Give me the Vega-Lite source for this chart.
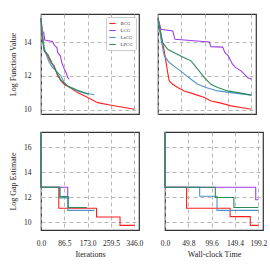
{
  "$schema": "https://vega.github.io/schema/vega-lite/v6.json",
  "padding": {"left": 8, "top": 13, "right": 5, "bottom": 5},
  "config": {
    "font": "Liberation Serif",
    "view": {"stroke": "#333333", "strokeWidth": 1.2},
    "axis": {"gridColor": "#b0b0b0", "gridDash": [4, 3], "gridWidth": 0.9, "domain": false, "ticks": false, "labelFontSize": 7.5, "titleFontSize": 8, "labelColor": "#222222", "titleColor": "#222222", "titleFontWeight": "normal", "labelFont": "Liberation Serif", "titleFont": "Liberation Serif", "minExtent": 0, "labelFlush": false, "labelOverlap": false},
    "line": {"strokeWidth": 1.1, "clip": true}
  },
  "datasets": {
    "fi": [
      {"m":"BCG","x":0,"y":15.4},{"m":"BCG","x":6,"y":14.45},{"m":"BCG","x":12,"y":13.47},{"m":"BCG","x":25,"y":13.18},{"m":"BCG","x":37,"y":12.79},{"m":"BCG","x":49,"y":12.59},{"m":"BCG","x":62,"y":12.0},{"m":"BCG","x":74,"y":11.71},{"m":"BCG","x":86,"y":11.51},{"m":"BCG","x":111,"y":11.28},{"m":"BCG","x":136,"y":11.02},{"m":"BCG","x":173,"y":10.73},{"m":"BCG","x":210,"y":10.43},{"m":"BCG","x":260,"y":10.28},{"m":"BCG","x":309,"y":10.14},{"m":"BCG","x":346,"y":10.04},
      {"m":"LCG","x":0,"y":15.4},{"m":"LCG","x":2,"y":14.6},{"m":"LCG","x":10,"y":14.58},{"m":"LCG","x":14,"y":14.12},{"m":"LCG","x":43,"y":14.03},{"m":"LCG","x":49,"y":13.81},{"m":"LCG","x":59,"y":13.67},{"m":"LCG","x":62,"y":13.37},{"m":"LCG","x":72,"y":13.18},{"m":"LCG","x":77,"y":12.79},{"m":"LCG","x":84,"y":12.49},{"m":"LCG","x":93,"y":12.2},{"m":"LCG","x":99,"y":11.9},{"m":"LCG","x":105,"y":11.81},
      {"m":"LaCG","x":0,"y":15.4},{"m":"LaCG","x":6,"y":14.26},{"m":"LaCG","x":12,"y":13.67},{"m":"LaCG","x":19,"y":13.28},{"m":"LaCG","x":31,"y":12.79},{"m":"LaCG","x":43,"y":12.49},{"m":"LaCG","x":56,"y":12.3},{"m":"LaCG","x":74,"y":12.0},{"m":"LaCG","x":86,"y":11.6},{"m":"LaCG","x":100,"y":11.4},{"m":"LaCG","x":130,"y":11.15},{"m":"LaCG","x":160,"y":11.0},{"m":"LaCG","x":198,"y":10.89},
      {"m":"LPCG","x":0,"y":15.4},{"m":"LPCG","x":6,"y":14.03},{"m":"LPCG","x":12,"y":13.47},{"m":"LPCG","x":25,"y":13.28},{"m":"LPCG","x":37,"y":12.89},{"m":"LPCG","x":49,"y":12.49},{"m":"LPCG","x":62,"y":12.1},{"m":"LPCG","x":74,"y":11.75},{"m":"LPCG","x":99,"y":11.41},{"m":"LPCG","x":136,"y":11.16},{"m":"LPCG","x":175,"y":10.93}
    ],
    "ft": [
      {"m":"BCG","x":0,"y":15.4},{"m":"BCG","x":6.4,"y":14.36},{"m":"BCG","x":10,"y":13.96},{"m":"BCG","x":15,"y":13.18},{"m":"BCG","x":20.7,"y":12.2},{"m":"BCG","x":24,"y":11.71},{"m":"BCG","x":31.4,"y":11.51},{"m":"BCG","x":42,"y":11.32},{"m":"BCG","x":56,"y":11.12},{"m":"BCG","x":77.5,"y":10.93},{"m":"BCG","x":99,"y":10.73},{"m":"BCG","x":113,"y":10.53},{"m":"BCG","x":134.5,"y":10.4},{"m":"BCG","x":156,"y":10.24},{"m":"BCG","x":177,"y":10.14},{"m":"BCG","x":199.2,"y":10.04},
      {"m":"LCG","x":0,"y":15.4},{"m":"LCG","x":6.4,"y":14.75},{"m":"LCG","x":31.4,"y":14.65},{"m":"LCG","x":36.3,"y":14.16},{"m":"LCG","x":109.5,"y":14.0},{"m":"LCG","x":113,"y":13.73},{"m":"LCG","x":138,"y":13.7},{"m":"LCG","x":143,"y":13.37},{"m":"LCG","x":150,"y":13.18},{"m":"LCG","x":159,"y":12.69},{"m":"LCG","x":166,"y":12.49},{"m":"LCG","x":177,"y":12.3},{"m":"LCG","x":188,"y":12.0},{"m":"LCG","x":192,"y":11.9},{"m":"LCG","x":199.2,"y":11.81},
      {"m":"LaCG","x":0,"y":15.4},{"m":"LaCG","x":6.4,"y":14.16},{"m":"LaCG","x":13.4,"y":13.18},{"m":"LaCG","x":24,"y":12.79},{"m":"LaCG","x":38.4,"y":12.49},{"m":"LaCG","x":52.7,"y":12.2},{"m":"LaCG","x":70.4,"y":11.81},{"m":"LaCG","x":84.7,"y":11.51},{"m":"LaCG","x":102.5,"y":11.32},{"m":"LaCG","x":127.4,"y":11.12},{"m":"LaCG","x":155.8,"y":11.02},{"m":"LaCG","x":199.2,"y":10.87},
      {"m":"LPCG","x":0,"y":15.4},{"m":"LPCG","x":10,"y":13.96},{"m":"LPCG","x":20.7,"y":13.57},{"m":"LPCG","x":34.8,"y":13.37},{"m":"LPCG","x":56,"y":13.08},{"m":"LPCG","x":70.4,"y":12.89},{"m":"LPCG","x":84.7,"y":12.4},{"m":"LPCG","x":99,"y":11.9},{"m":"LPCG","x":113,"y":11.51},{"m":"LPCG","x":127.4,"y":11.32},{"m":"LPCG","x":148.7,"y":11.12},{"m":"LPCG","x":177,"y":10.99},{"m":"LPCG","x":199.2,"y":10.87}
    ],
    "gi": [
      {"m":"BCG","x":0,"y":17.22},{"m":"BCG","x":0,"y":12.8},{"m":"BCG","x":66,"y":11.12},{"m":"BCG","x":206,"y":10.42},{"m":"BCG","x":293,"y":9.75},{"m":"BCG","x":346,"y":9.75},
      {"m":"LCG","x":0,"y":17.22},{"m":"LCG","x":0,"y":12.8},{"m":"LCG","x":99,"y":11.9},{"m":"LCG","x":105,"y":11.9},
      {"m":"LaCG","x":0,"y":17.22},{"m":"LaCG","x":0,"y":12.8},{"m":"LaCG","x":70,"y":11.95},{"m":"LaCG","x":99,"y":10.95},{"m":"LaCG","x":198,"y":10.95},
      {"m":"LPCG","x":0,"y":17.22},{"m":"LPCG","x":0,"y":12.8},{"m":"LPCG","x":70,"y":12.05},{"m":"LPCG","x":101,"y":11.18},{"m":"LPCG","x":170,"y":11.18}
    ],
    "gt": [
      {"m":"BCG","x":0,"y":17.22},{"m":"BCG","x":0,"y":12.8},{"m":"BCG","x":46,"y":11.12},{"m":"BCG","x":139,"y":10.45},{"m":"BCG","x":182,"y":9.75},{"m":"BCG","x":199.2,"y":9.75},
      {"m":"LCG","x":0,"y":17.22},{"m":"LCG","x":0,"y":12.8},{"m":"LCG","x":193.6,"y":11.8},{"m":"LCG","x":199.2,"y":11.8},
      {"m":"LaCG","x":0,"y":17.22},{"m":"LaCG","x":0,"y":12.8},{"m":"LaCG","x":74,"y":12.08},{"m":"LaCG","x":111,"y":10.95},{"m":"LaCG","x":199.2,"y":10.95},
      {"m":"LPCG","x":0,"y":17.22},{"m":"LPCG","x":0,"y":12.8},{"m":"LPCG","x":107.4,"y":11.98},{"m":"LPCG","x":147,"y":11.18},{"m":"LPCG","x":199.2,"y":11.18}
    ]
  },
  "resolve": {"scale": {"x": "independent", "y": "independent"}, "legend": {"color": "independent"}},
  "spacing": 14,
  "vconcat": [
    {
      "spacing": 15,
      "resolve": {"scale": {"x": "independent", "y": "independent"}, "legend": {"color": "independent"}},
      "hconcat": [
        {
          "width": 98, "height": 100,
          "data": {"name": "fi"},
          "mark": {"type": "line"},
          "encoding": {
            "x": {"field": "x", "type": "quantitative", "scale": {"domain": [0, 363.3], "nice": false, "zero": false}, "axis": {"values": [0, 86.5, 173, 259.5, 346], "labels": false, "title": null}},
            "y": {"field": "y", "type": "quantitative", "scale": {"domain": [9.76, 15.65], "nice": false, "zero": false}, "axis": {"values": [10, 12, 14], "format": "d", "title": "Log Function Value", "labelPadding": 10, "titlePadding": 6}},
            "color": {"field": "m", "type": "nominal", "scale": {"domain": ["BCG", "LCG", "LaCG", "LPCG"], "range": ["#ff1f1f", "#a040e0", "#4f92d0", "#2e8b57"]},
              "legend": {"title": null, "orient": "top-right", "offset": 3, "symbolType": "stroke", "symbolSize": 40, "symbolStrokeWidth": 1.3, "labelFontSize": 4.8, "rowPadding": 0, "padding": 2.5, "strokeColor": "#cccccc", "fillColor": "white", "cornerRadius": 1.5, "labelOffset": 4, "labelColor": "#333333"}},
            "order": {"value": null}
          }
        },
        {
          "width": 98, "height": 100,
          "data": {"name": "ft"},
          "mark": {"type": "line"},
          "encoding": {
            "x": {"field": "x", "type": "quantitative", "scale": {"domain": [0, 209.16], "nice": false, "zero": false}, "axis": {"values": [0, 49.8, 99.6, 149.4, 199.2], "labels": false, "title": null}},
            "y": {"field": "y", "type": "quantitative", "scale": {"domain": [9.76, 15.65], "nice": false, "zero": false}, "axis": {"values": [10, 12, 14], "labels": false, "title": null}},
            "color": {"field": "m", "type": "nominal", "scale": {"domain": ["BCG", "LCG", "LaCG", "LPCG"], "range": ["#ff1f1f", "#a040e0", "#4f92d0", "#2e8b57"]}, "legend": null},
            "order": {"value": null}
          }
        }
      ]
    },
    {
      "spacing": 15,
      "resolve": {"scale": {"x": "independent", "y": "independent"}, "legend": {"color": "independent"}},
      "hconcat": [
        {
          "width": 98, "height": 98,
          "data": {"name": "gi"},
          "mark": {"type": "line", "interpolate": "step-after"},
          "encoding": {
            "x": {"field": "x", "type": "quantitative", "scale": {"domain": [0, 363.3], "nice": false, "zero": false}, "axis": {"values": [0, 86.5, 173, 259.5, 346], "format": ".1f", "title": "Iterations", "labelPadding": 9, "titlePadding": 4}},
            "y": {"field": "y", "type": "quantitative", "scale": {"domain": [9.38, 17.22], "nice": false, "zero": false}, "axis": {"values": [10, 12, 14, 16], "format": "d", "title": "Log Gap Estimate", "labelPadding": 10, "titlePadding": 6}},
            "color": {"field": "m", "type": "nominal", "scale": {"domain": ["BCG", "LCG", "LaCG", "LPCG"], "range": ["#ff1f1f", "#a040e0", "#4f92d0", "#2e8b57"]}, "legend": null},
            "order": {"value": null}
          }
        },
        {
          "width": 98, "height": 98,
          "data": {"name": "gt"},
          "mark": {"type": "line", "interpolate": "step-after"},
          "encoding": {
            "x": {"field": "x", "type": "quantitative", "scale": {"domain": [0, 209.16], "nice": false, "zero": false}, "axis": {"values": [0, 49.8, 99.6, 149.4, 199.2], "format": ".1f", "title": "Wall-clock Time", "labelPadding": 9, "titlePadding": 4}},
            "y": {"field": "y", "type": "quantitative", "scale": {"domain": [9.38, 17.22], "nice": false, "zero": false}, "axis": {"values": [10, 12, 14, 16], "labels": false, "title": null}},
            "color": {"field": "m", "type": "nominal", "scale": {"domain": ["BCG", "LCG", "LaCG", "LPCG"], "range": ["#ff1f1f", "#a040e0", "#4f92d0", "#2e8b57"]}, "legend": null},
            "order": {"value": null}
          }
        }
      ]
    }
  ]
}
